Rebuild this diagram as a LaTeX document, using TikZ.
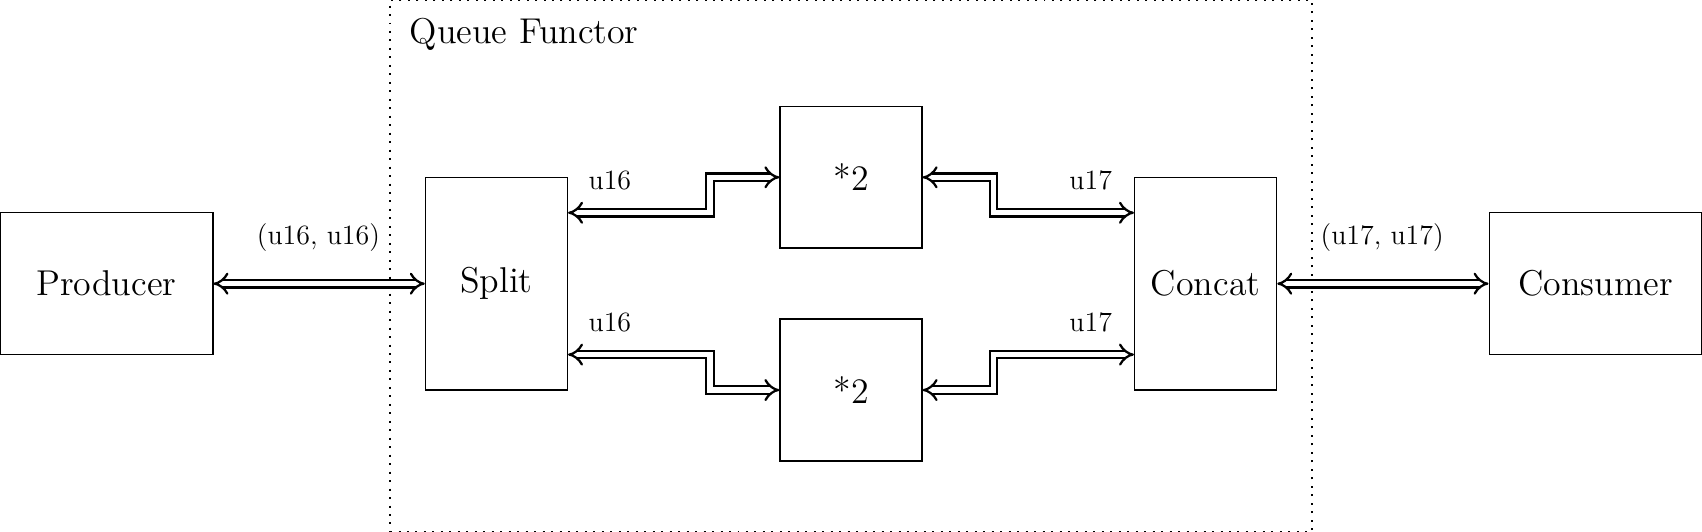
\documentclass[tikz,border=0pt]{standalone}
\usetikzlibrary{arrows.meta}
\begin{document}
\begin{tikzpicture}[
  blk/.style={draw, line width=0.6pt, inner sep=0pt, font=\Large},
  dbl/.style={double, line width=0.9pt, double distance=2.1pt, {Implies}-{Implies}},
  lbl/.style={inner sep=0pt, font=\fontsize{11.2pt}{13pt}\selectfont},
  frame/.style={draw, line width=0.8pt, dash pattern=on 0.8pt off 2.6pt, inner sep=0pt}
]
\useasboundingbox (0,0) rectangle (24,7.5);

\node[frame, minimum width=13cm, minimum height=7.5cm] (qf) at (12,3.75) {};
\node[anchor=base west, inner sep=0pt, font=\Large] (qft) at (5.77,6.89) {Queue Functor};

\node[blk, minimum width=3cm, minimum height=2cm] (prod) at (1.5,3.5) {Producer};
\node[blk, minimum width=2cm, minimum height=3cm] (split) at (7,3.5) {Split};
\node[blk, minimum width=2cm, minimum height=2cm] (m1) at (12,5) {*2};
\node[blk, minimum width=2cm, minimum height=2cm] (m2) at (12,2) {*2};
\node[blk, minimum width=2cm, minimum height=3cm] (concat) at (17,3.5) {Concat};
\node[blk, minimum width=3cm, minimum height=2cm] (cons) at (22.5,3.5) {Consumer};

\draw[dbl] (prod.east) -- (split.west);
\draw[dbl] ([yshift=1cm]split.east) -- ++(2,0) |- (m1.west);
\draw[dbl] ([yshift=-1cm]split.east) -- ++(2,0) |- (m2.west);
\draw[dbl] (m1.east) -- ++(1,0) |- ([yshift=1cm]concat.west);
\draw[dbl] (m2.east) -- ++(1,0) |- ([yshift=-1cm]concat.west);
\draw[dbl] (concat.east) -- (cons.west);

\node[lbl] (l1) at (4.49,4.15) {(u16, u16)};
\node[lbl] (l2) at (8.6,4.95) {u16};
\node[lbl] (l3) at (8.6,2.95) {u16};
\node[lbl] (l4) at (15.38,4.95) {u17};
\node[lbl] (l5) at (15.38,2.95) {u17};
\node[lbl] (l6) at (19.49,4.15) {(u17, u17)};
\end{tikzpicture}
\end{document}
